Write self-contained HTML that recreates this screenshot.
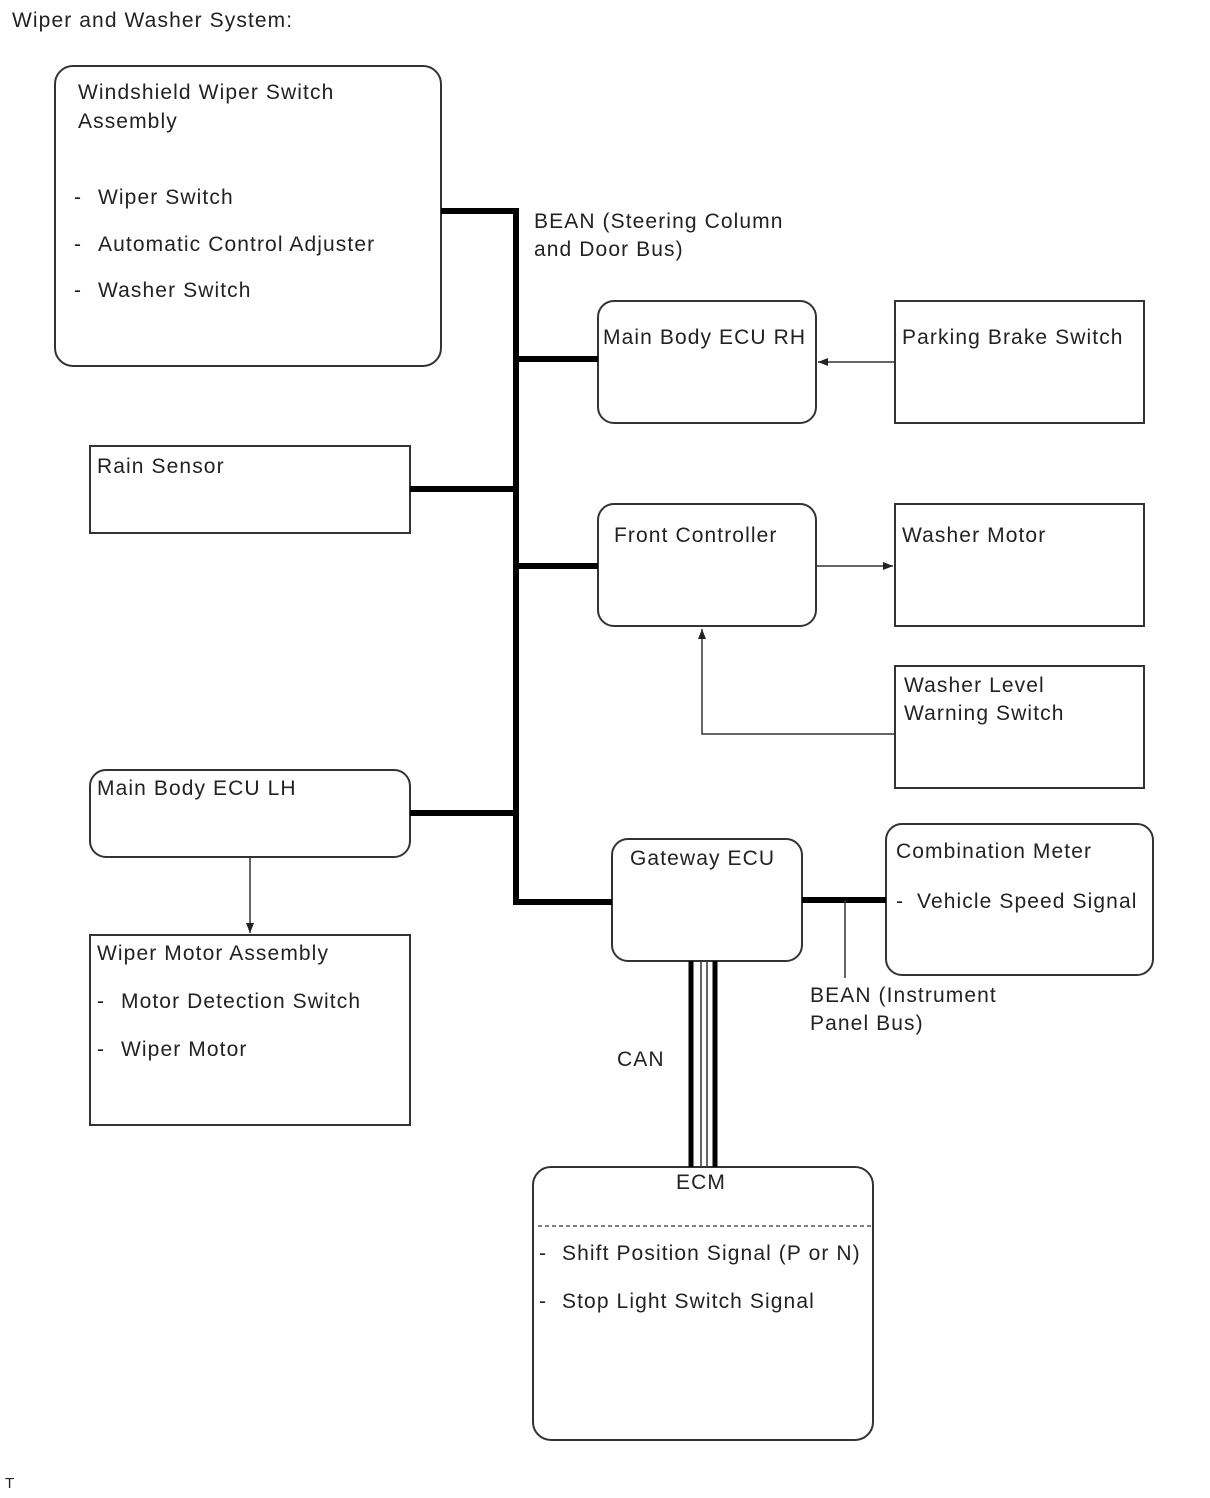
<!DOCTYPE html>
<html><head><meta charset="utf-8"><style>
html,body{margin:0;padding:0;background:#fff;}
svg{display:block;}
text{font-family:"Liberation Sans",Arial,sans-serif;font-size:21px;letter-spacing:1.1px;fill:#222;}
</style></head><body>
<svg width="1210" height="1498" viewBox="0 0 1210 1498" xmlns="http://www.w3.org/2000/svg">
<defs><marker id="a" markerWidth="10" markerHeight="8" refX="10" refY="4" orient="auto" markerUnits="userSpaceOnUse"><path d="M0,0 L10,4 L0,8 z" fill="#222"/></marker></defs>
<text x="12" y="27">Wiper and Washer System:</text>
<g fill="none" stroke="#333" stroke-width="2">
<rect x="55" y="66" width="386" height="300" rx="18"/>
<rect x="598" y="301" width="218" height="122" rx="16"/>
<rect x="895" y="301" width="249" height="122"/>
<rect x="90" y="446" width="320" height="87"/>
<rect x="598" y="504" width="218" height="122" rx="16"/>
<rect x="895" y="504" width="249" height="122"/>
<rect x="895" y="666" width="249" height="122"/>
<rect x="90" y="770" width="320" height="87" rx="16"/>
<rect x="90" y="935" width="320" height="190"/>
<rect x="612" y="839" width="190" height="122" rx="16"/>
<rect x="886" y="824" width="267" height="151" rx="16"/>
<rect x="533" y="1167" width="340" height="273" rx="18"/>
</g>
<line x1="538" y1="1226" x2="873" y2="1226" stroke="#333" stroke-width="1.2" stroke-dasharray="4,3"/>
<g stroke="#000" stroke-width="6" fill="none">
<polyline points="441,211 516,211 516,902 612,902"/>
<line x1="516" y1="359" x2="598" y2="359"/>
<line x1="410" y1="489" x2="516" y2="489"/>
<line x1="516" y1="566" x2="598" y2="566"/>
<line x1="410" y1="813" x2="516" y2="813"/>
<line x1="802" y1="900" x2="886" y2="900"/>
<line x1="691" y1="961" x2="691" y2="1167" stroke-width="5"/>
<line x1="715" y1="961" x2="715" y2="1167" stroke-width="5"/>
</g>
<g stroke="#333" stroke-width="1.5" fill="none">
<line x1="701" y1="961" x2="701" y2="1167"/>
<line x1="707" y1="961" x2="707" y2="1167"/>
<line x1="845" y1="900" x2="845" y2="978"/>
<line x1="895" y1="362" x2="818" y2="362" marker-end="url(#a)"/>
<line x1="816" y1="566" x2="893" y2="566" marker-end="url(#a)"/>
<polyline points="895,734 702,734 702,629" marker-end="url(#a)"/>
<line x1="250" y1="857" x2="250" y2="933" marker-end="url(#a)"/>
</g>
<text x="78" y="99">Windshield Wiper Switch</text>
<text x="78" y="128">Assembly</text>
<text x="74" y="204">-</text><text x="98" y="204">Wiper Switch</text>
<text x="74" y="251">-</text><text x="98" y="251">Automatic Control Adjuster</text>
<text x="74" y="297">-</text><text x="98" y="297">Washer Switch</text>
<text x="534" y="228">BEAN (Steering Column</text>
<text x="534" y="256">and Door Bus)</text>
<text x="603" y="344">Main Body ECU RH</text>
<text x="902" y="344">Parking Brake Switch</text>
<text x="97" y="473">Rain Sensor</text>
<text x="614" y="542">Front Controller</text>
<text x="902" y="542">Washer Motor</text>
<text x="904" y="692">Washer Level</text>
<text x="904" y="720">Warning Switch</text>
<text x="97" y="795">Main Body ECU LH</text>
<text x="630" y="865">Gateway ECU</text>
<text x="896" y="858">Combination Meter</text>
<text x="896" y="908">-</text><text x="917" y="908">Vehicle Speed Signal</text>
<text x="97" y="960">Wiper Motor Assembly</text>
<text x="97" y="1008">-</text><text x="121" y="1008">Motor Detection Switch</text>
<text x="97" y="1056">-</text><text x="121" y="1056">Wiper Motor</text>
<text x="810" y="1002">BEAN (Instrument</text>
<text x="810" y="1030">Panel Bus)</text>
<text x="617" y="1066">CAN</text>
<text x="676" y="1189">ECM</text>
<text x="539" y="1260">-</text><text x="562" y="1260">Shift Position Signal (P or N)</text>
<text x="539" y="1308">-</text><text x="562" y="1308">Stop Light Switch Signal</text>
<text x="5" y="1488" style="font-size:15px;letter-spacing:0">T</text>
</svg>
</body></html>
